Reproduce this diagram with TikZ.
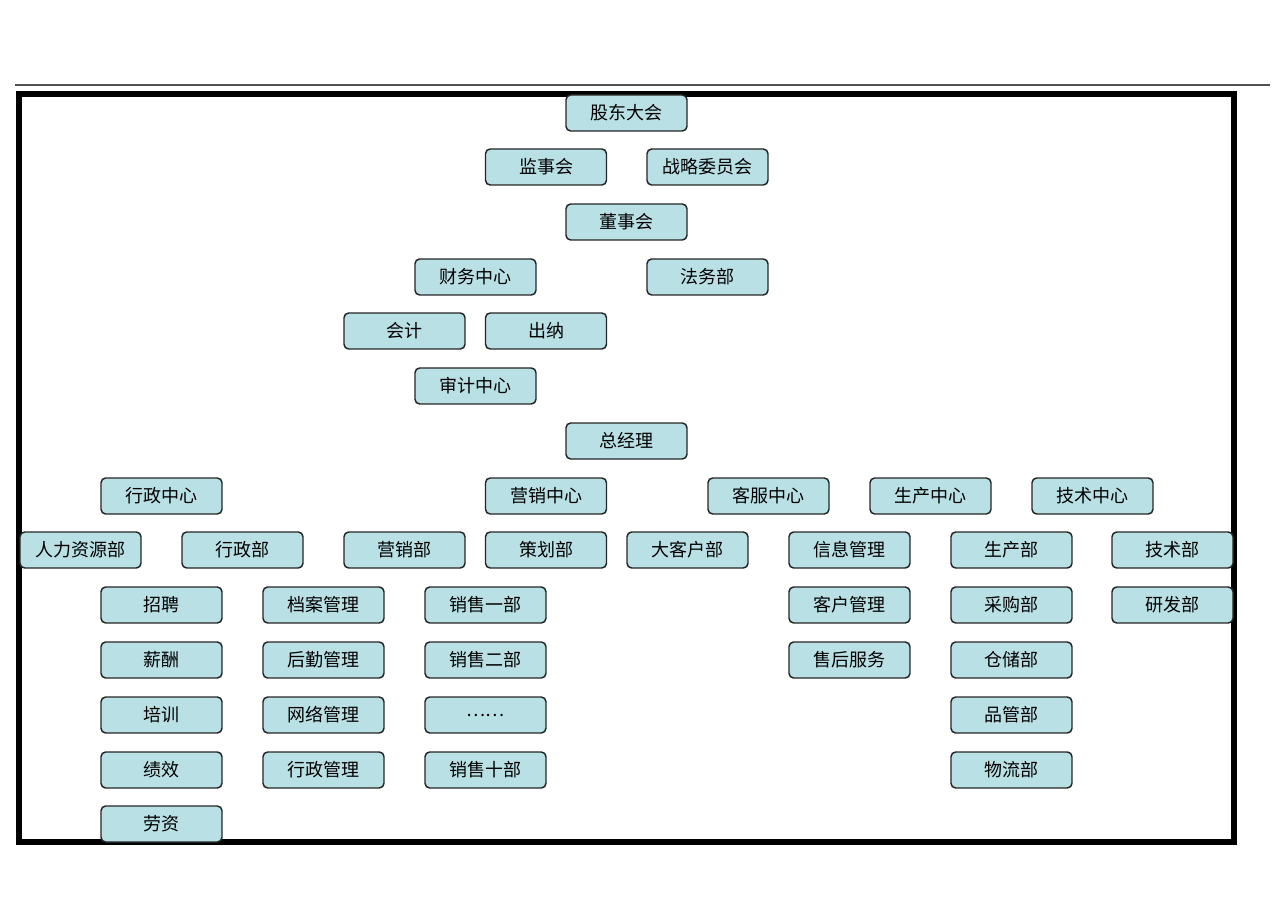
\documentclass[tikz,border=0pt]{standalone}
\usepackage{fontspec}
\newfontfamily\cjk{Noto Sans CJK SC}
\definecolor{boxfill}{RGB}{185,224,228}
\definecolor{rulegray}{RGB}{80,80,80}
\begin{document}
\begin{tikzpicture}[x=0.75pt,y=-0.75pt,
  unit/.style={draw=black!85, line width=1.1pt, fill=boxfill, rounded corners=3.5pt,
    minimum width=90.75pt, minimum height=27pt, inner sep=0pt,
    font=\cjk\fontsize{13.5}{15}\selectfont}]
\useasboundingbox (0,0) rectangle (1286,909);
% top rule and frame
\coordinate (r1) at (15,85);
\coordinate (r2) at (1270,85);
\draw[rulegray, line width=1.1pt] (r1) -- (r2);
\coordinate (f1) at (19,94);
\coordinate (f2) at (1234,842);
\draw[black, line width=4.6pt] (f1) rectangle (f2);
% rows
\node[unit] (gd) at (626.5,113) {股东大会};
\node[unit] (js) at (546,167) {监事会};
\node[unit] (zl) at (707.5,167) {战略委员会};
\node[unit] (ds) at (626.5,222) {董事会};
\node[unit] (cw) at (475.5,277) {财务中心};
\node[unit] (fw) at (707.5,277) {法务部};
\node[unit] (kj) at (404.5,331) {会计};
\node[unit] (cn) at (546,331) {出纳};
\node[unit] (sj) at (475.5,386) {审计中心};
\node[unit] (zjl) at (626.5,441) {总经理};
% centres
\node[unit] (xzzx) at (161.5,496) {行政中心};
\node[unit] (yxzx) at (546,496) {营销中心};
\node[unit] (kfzx) at (768.5,496) {客服中心};
\node[unit] (sczx) at (930.5,496) {生产中心};
\node[unit] (jszx) at (1092.5,496) {技术中心};
% departments
\node[unit] (rl) at (80.5,550) {人力资源部};
\node[unit] (xzb) at (242.5,550) {行政部};
\node[unit] (yxb) at (404.5,550) {营销部};
\node[unit] (chb) at (546,550) {策划部};
\node[unit] (dkh) at (687.5,550) {大客户部};
\node[unit] (xxgl) at (849.5,550) {信息管理};
\node[unit] (scb) at (1011.5,550) {生产部};
\node[unit] (jsb) at (1172.5,550) {技术部};
% row 10
\node[unit] (zp) at (161.5,605) {招聘};
\node[unit] (dagl) at (323.5,605) {档案管理};
\node[unit] (xs1) at (485.5,605) {销售一部};
\node[unit] (khgl) at (849.5,605) {客户管理};
\node[unit] (cgb) at (1011.5,605) {采购部};
\node[unit] (yfb) at (1172.5,605) {研发部};
% row 11
\node[unit] (xc) at (161.5,660) {薪酬};
\node[unit] (hqgl) at (323.5,660) {后勤管理};
\node[unit] (xs2) at (485.5,660) {销售二部};
\node[unit] (shfw) at (849.5,660) {售后服务};
\node[unit] (ccb) at (1011.5,660) {仓储部};
% row 12
\node[unit] (px) at (161.5,715) {培训};
\node[unit] (wlgl) at (323.5,715) {网络管理};
\node[unit] (xsdots) at (485.5,715) {……};
\node[unit] (pgb) at (1011.5,715) {品管部};
% row 13
\node[unit] (jx) at (161.5,770) {绩效};
\node[unit] (xzgl) at (323.5,770) {行政管理};
\node[unit] (xs10) at (485.5,770) {销售十部};
\node[unit] (wlb) at (1011.5,770) {物流部};
% row 14
\node[unit] (lz) at (161.5,824) {劳资};
\end{tikzpicture}
\end{document}
